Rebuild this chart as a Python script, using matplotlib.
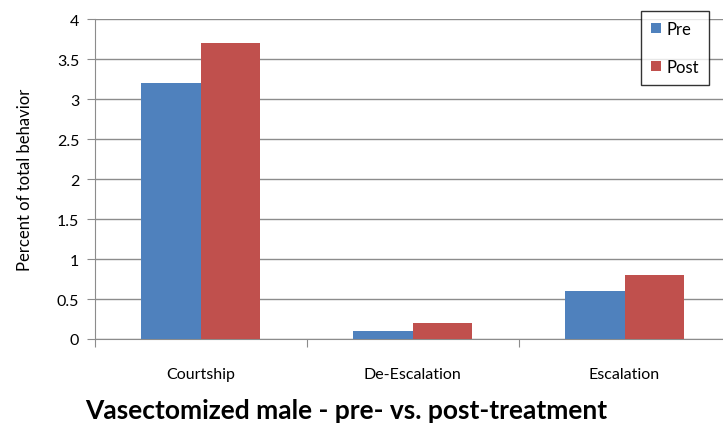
import matplotlib.pyplot as plt
import numpy as np

categories = ["Courtship", "De-Escalation", "Escalation"]
pre = [3.2, 0.1, 0.6]
post = [3.7, 0.2, 0.8]

plt.rcParams['font.family'] = ['Lato', 'DejaVu Sans']

fig = plt.figure(figsize=(7.23, 4.27), dpi=100)
ax = fig.add_axes([94.5 / 723, 1 - 340 / 427, 636 / 723, 320 / 427])

x = np.arange(len(categories))
w = 0.283
ax.bar(x - w / 2, pre, w, color="#4F81BD", label="Pre", zorder=3)
ax.bar(x + w / 2, post, w, color="#C0504D", label="Post", zorder=3)

ax.set_xlim(-0.5, 2.5)
ax.set_ylim(0, 4)
ax.set_yticks(np.arange(0, 4.01, 0.5))
ax.set_yticklabels(["0", "0.5", "1", "1.5", "2", "2.5", "3", "3.5", "4"])
ax.yaxis.grid(True, color="#8c8c8c", linewidth=1, zorder=0)

# category boundaries as tick marks, names on minor ticks
ax.set_xticks([-0.5, 0.5, 1.5])
ax.set_xticklabels([])
ax.set_xticks(x, minor=True)
ax.set_xticklabels(categories, minor=True)
ax.tick_params(axis="x", which="major", length=6, color="#8c8c8c")
ax.tick_params(axis="x", which="minor", length=0, pad=20, labelsize=11.5)
ax.tick_params(axis="y", length=6, color="#8c8c8c", labelsize=11.5, pad=5)

for s in ["top", "right"]:
    ax.spines[s].set_visible(False)
for s in ["left", "bottom"]:
    ax.spines[s].set_color("#8c8c8c")

# y axis title
fig.text(25 / 723, 1 - 180 / 427, "Percent of total behavior", rotation=90,
         ha="center", va="center", fontsize=12)

leg = ax.legend(loc="upper left", bbox_to_anchor=(641 / 723, 1 - 12 / 427),
                bbox_transform=fig.transFigure, frameon=True, fancybox=False,
                fontsize=12, handlelength=0.6, handleheight=0.6,
                handletextpad=0.3, labelspacing=1.3, borderpad=0.6,
                borderaxespad=0)
leg.get_frame().set_edgecolor("black")
leg.get_frame().set_linewidth(1)

fig.text(346 / 723, 1 - 419 / 427, "Vasectomized male - pre- vs. post-treatment",
         ha="center", va="baseline", fontsize=19, fontweight="bold")

fig.savefig("out.png", dpi=100)
